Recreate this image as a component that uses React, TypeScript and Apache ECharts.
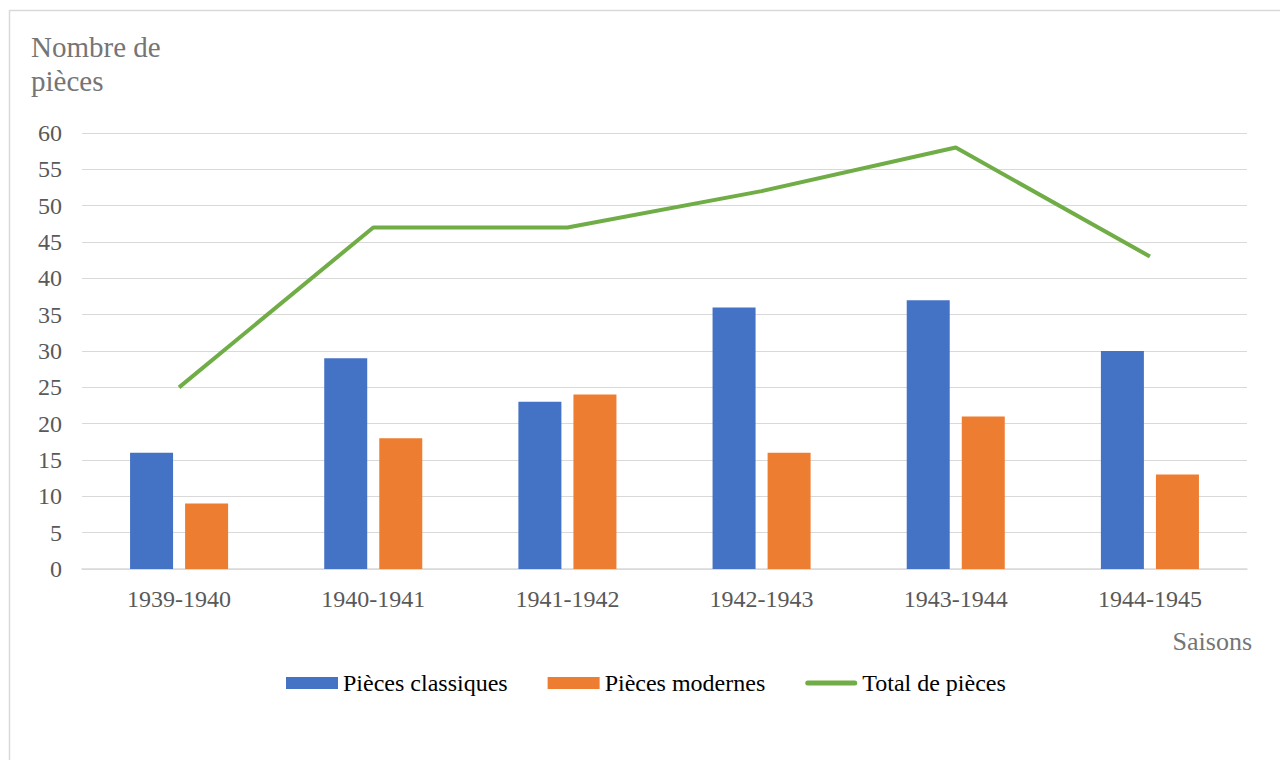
import React, { useEffect, useRef } from "react";
import * as echarts from "echarts";

const categories = ["1939-1940", "1940-1941", "1941-1942", "1942-1943", "1943-1944", "1944-1945"];
const classiques = [16, 29, 23, 36, 37, 30];
const modernes = [9, 18, 24, 16, 21, 13];
const total = [25, 47, 47, 52, 58, 43];

const FONT = "Times New Roman, Liberation Serif, serif";

export default function App() {
  const ref = useRef<HTMLDivElement>(null);
  useEffect(() => {
    if (!ref.current) return;
    const chart = echarts.init(ref.current, null, { renderer: "svg" });
    chart.setOption({
      animation: false,
      backgroundColor: "#ffffff",
      textStyle: { fontFamily: FONT },
      grid: { left: 82, right: 33, top: 133, bottom: 191, containLabel: false },
      graphic: [
        {
          type: "rect",
          shape: { x: 9.5, y: 10.5, width: 1275, height: 760 },
          style: { fill: "none", stroke: "#d9d9d9", lineWidth: 1.5 },
          silent: true,
        },
        {
          type: "text",
          left: 31,
          top: 30,
          style: {
            text: "Nombre de\npièces",
            fontFamily: FONT,
            fontSize: 29,
            fill: "#757575",
            lineHeight: 34,
          },
        },
        {
          type: "text",
          right: 28,
          top: 628,
          style: { text: "Saisons", fontFamily: FONT, fontSize: 26, fill: "#757575" },
        },
      ],
      legend: {
        top: 666,
        left: 281,
        itemWidth: 52,
        itemHeight: 12,
        itemGap: 40,
        textStyle: { fontFamily: FONT, fontSize: 24, color: "#000000" },
        data: [
          { name: "Pièces classiques", icon: "rect" },
          { name: "Pièces modernes", icon: "rect" },
          { name: "Total de pièces", icon: "path://M2.5,0 L49.5,0 A2.5,2.5 0 0 1 49.5,5 L2.5,5 A2.5,2.5 0 0 1 2.5,0 Z" },
        ],
      },
      xAxis: {
        type: "category",
        data: categories,
        axisLine: { show: true, lineStyle: { color: "#d9d9d9", width: 1.5 } },
        axisTick: { show: false },
        axisLabel: { color: "#595959", fontSize: 24, fontFamily: FONT, margin: 18 },
      },
      yAxis: {
        type: "value",
        min: 0,
        max: 60,
        interval: 5,
        axisLine: { show: false },
        axisTick: { show: false },
        splitLine: { lineStyle: { color: "#d9d9d9", width: 1 } },
        axisLabel: { color: "#595959", fontSize: 24, fontFamily: FONT, margin: 20 },
      },
      series: [
        {
          name: "Pièces classiques",
          type: "bar",
          data: classiques,
          barWidth: 43,
          barGap: "28%",
          itemStyle: { color: "#4472c4" },
        },
        {
          name: "Pièces modernes",
          type: "bar",
          data: modernes,
          barWidth: 43,
          barGap: "28%",
          itemStyle: { color: "#ed7d31" },
        },
        {
          name: "Total de pièces",
          type: "line",
          data: total,
          symbol: "none",
          lineStyle: { color: "#70ad47", width: 4 },
          itemStyle: { color: "#70ad47" },
        },
      ],
    });
    return () => chart.dispose();
  }, []);
  return (
    <div
      ref={ref}
      style={{ position: "fixed", left: 0, top: 0, width: 1280, height: 760 }}
    />
  );
}
